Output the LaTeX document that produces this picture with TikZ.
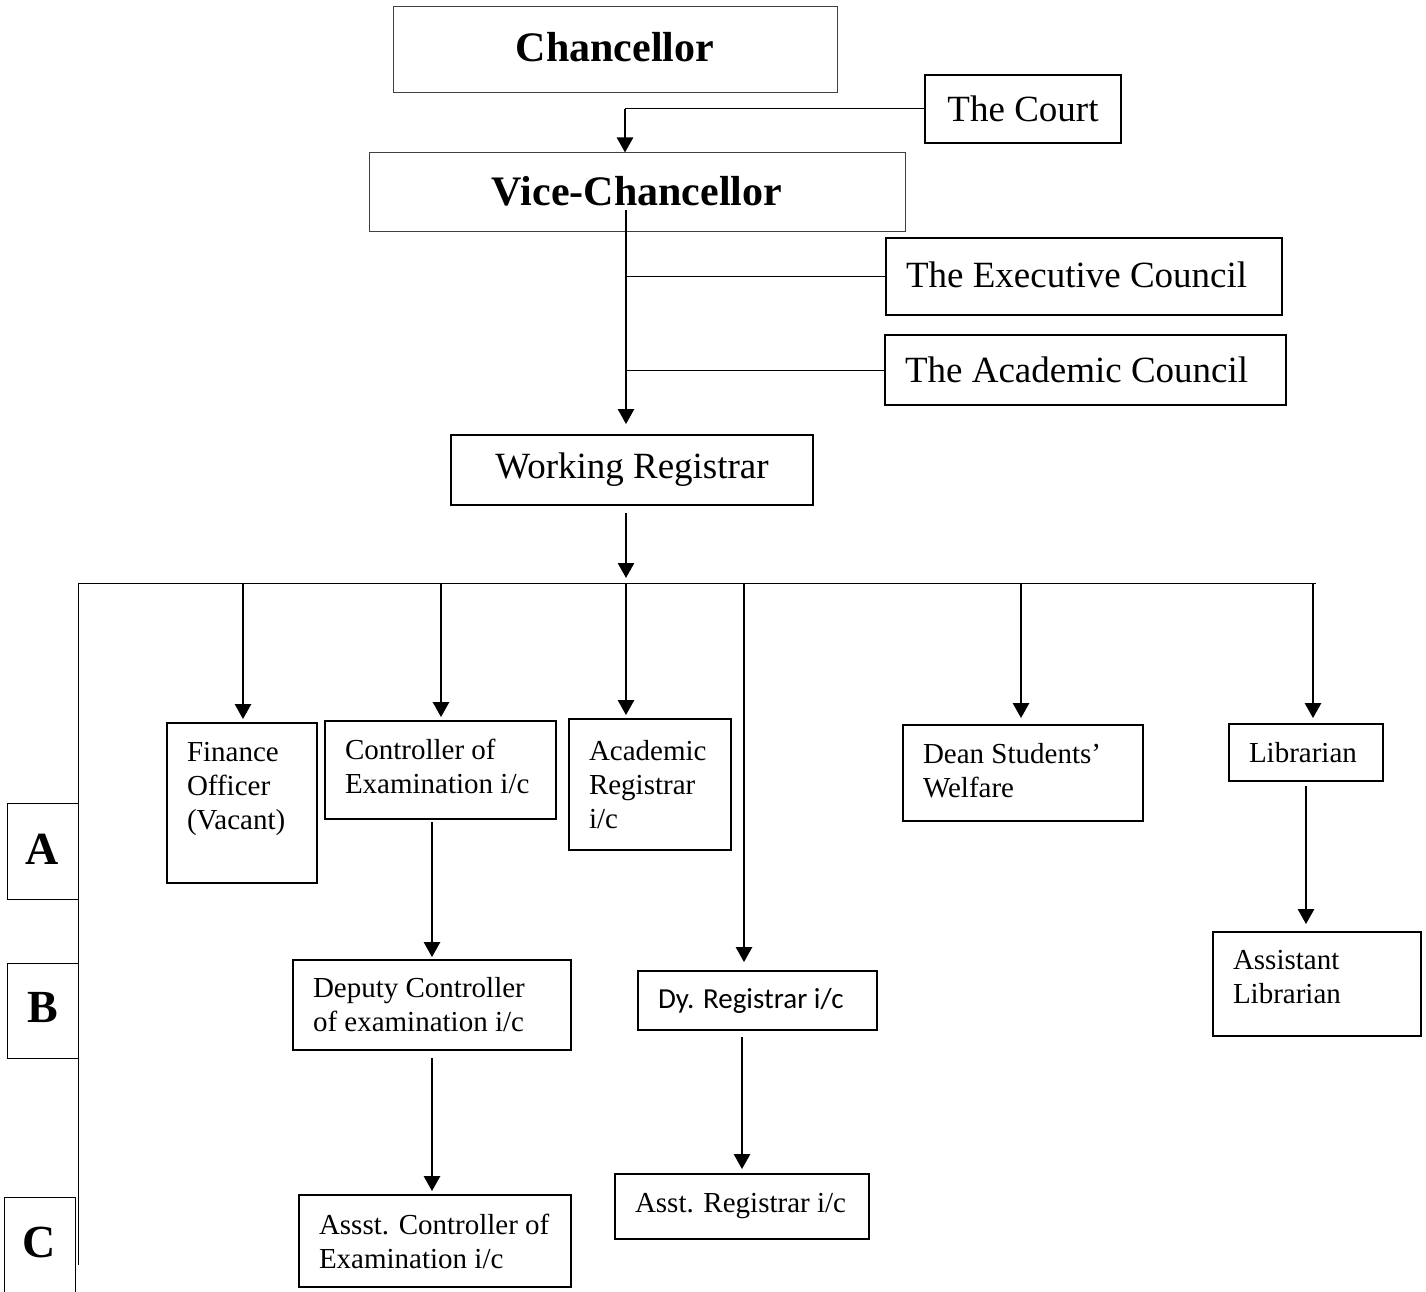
\documentclass[tikz,border=0pt]{standalone}
\usepackage{fontspec}
\setmainfont{Liberation Serif}
\newfontfamily\calibrifont{Carlito}
\usetikzlibrary{arrows.meta}
\newcommand\fsbig{\fontsize{37}{42}\selectfont}
\newcommand\fssmall{\fontsize{29}{34}\selectfont}
\newcommand\fshead{\fontsize{42}{48}\selectfont\bfseries}
\newcommand\fsletter{\fontsize{46}{52}\selectfont\bfseries}
\begin{document}
\begin{tikzpicture}[x=1pt,y=-1pt,
    box/.style={draw, line width=1.8pt, inner sep=0pt, font=\fsbig},
    thinbox/.style={draw=black!75, line width=1pt, inner sep=0pt, font=\fshead},
    lbox/.style={draw, line width=1.8pt, align=flush left, inner xsep=20pt, inner ysep=0pt, font=\fssmall},
    letterbox/.style={draw, line width=1pt, inner sep=0pt, minimum width=71pt, font=\fsletter},
    flow/.style={-{Triangle[length=15pt,width=16pt]}, line width=2.6pt},
    link/.style={line width=1pt}]
    \useasboundingbox (0,0) rectangle (1426,1292);
    % top of the chart
    \node[thinbox, minimum width=444pt, minimum height=86pt] (chan) at (615,50) {\raisebox{6pt}{Chancellor}};
    \node[box, minimum width=196pt, minimum height=68pt] (court) at (1023,109) {The Court};
    \node[thinbox, minimum width=536pt, minimum height=78pt] (vc) at (637,192) {\raisebox{2pt}{Vice-Chancellor}};
    \node[lbox, font=\fsbig, text width=356pt, minimum height=77pt] (exec) at (1084,276.5) {\raisebox{4pt}{The Executive Council}};
    \node[lbox, font=\fsbig, text width=361pt, minimum height=70pt] (acad) at (1085.5,370) {The Academic Council};
    \node[box, minimum width=362pt, minimum height=70pt] (wr) at (632,470) {Working Registrar};

    % officers
    \node[lbox, text width=110pt, minimum height=160pt] (fin) at (242,803) {Finance\\Officer\\(Vacant)\\\mbox{}};
    \node[lbox, text width=191pt, minimum height=98pt] (coe) at (440.5,770) {Controller of\\Examination i/c\\[-26pt]\mbox{}};
    \node[lbox, text width=122pt, minimum height=131pt] (acr) at (650,784.5) {Academic\\Registrar\\i/c};
    \node[lbox, text width=200pt, minimum height=96pt] (dsw) at (1023,773) {Dean Students’\\Welfare\\[-28pt]\mbox{}};
    \node[lbox, text width=114pt, minimum height=57pt] (lib) at (1306,752.5) {Librarian};
    \node[lbox, text width=168pt, minimum height=104pt] (alib) at (1317,984) {Assistant\\Librarian\\[-20pt]\mbox{}};
    \node[lbox, text width=238pt, minimum height=90pt] (dcoe) at (432,1005) {Deputy Controller\\of examination i/c};
    \node[lbox, font=\calibrifont\fssmall, text width=199pt, minimum height=59pt] (dyr) at (757.5,1000.5) {Dy. Registrar i/c};
    \node[lbox, text width=232pt, minimum height=92pt] (acoe) at (435,1241) {Assst. Controller of\\Examination i/c};
    \node[lbox, text width=214pt, minimum height=65pt] (asr) at (742,1206.5) {\raisebox{4pt}{Asst. Registrar i/c}};

    % levels
    \node[letterbox, minimum height=96pt] (la) at (42.5,851) {\raisebox{4pt}{A}};
    \node[letterbox, minimum height=95pt] (lb) at (42.5,1010.5) {\raisebox{7pt}{B}};
    \node[letterbox, minimum height=98pt] (lc) at (39.5,1246) {\raisebox{8pt}{C}};

    % connectors
    \coordinate (courtbend) at (625,109);
    \draw[link] (court.west) -- (courtbend);
    \draw[flow] (courtbend) -- (courtbend |- vc.north);
    \coordinate (trunk) at (626,210);
    \draw[flow, shorten >=10pt] (trunk) -- (trunk |- wr.north);
    \draw[link] (exec.west) -- (exec.west -| trunk);
    \draw[link] (acad.west) -- (acad.west -| trunk);

    \coordinate (busL) at (78,583);
    \coordinate (busR) at (1316,583);
    \coordinate (busend) at (78,1265);
    \draw[link] (busL) -- (busR);
    \draw[link] (busL) -- (busend);
    \draw[flow, shorten <=7pt, shorten >=5pt] (wr.south -| trunk) -- (trunk |- busL);

    \foreach \x/\n/\gap in {243/fin/3pt, 441/coe/3pt, 626/acr/3pt, 744/dyr/8pt, 1021/dsw/6pt, 1313/lib/5pt}
    {
        \coordinate (drop) at (\x,583);
        \draw[flow, shorten >=\gap] (drop) -- (drop |- \n.north);
    }

    \draw[flow, shorten <=2pt, shorten >=2pt] (coe.south -| dcoe.north) -- (dcoe.north);
    \draw[flow, shorten <=7pt, shorten >=3pt] (dcoe.south) -- (dcoe.south |- acoe.north);
    \draw[flow, shorten <=6pt, shorten >=4pt] (dyr.south -| asr.north) -- (asr.north);
    \draw[flow, shorten <=4pt, shorten >=7pt] (lib.south) -- (lib.south |- alib.north);
\end{tikzpicture}
\end{document}
